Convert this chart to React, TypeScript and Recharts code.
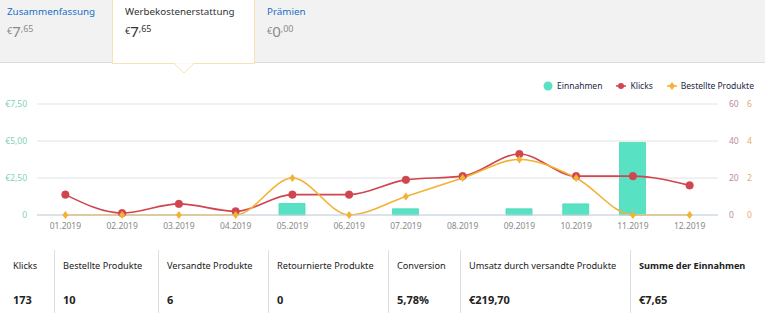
import { Bar, CartesianGrid, ComposedChart, Legend, Line, XAxis, YAxis } from "recharts"

// monthly values
const months = ["01.2019", "02.2019", "03.2019", "04.2019", "05.2019", "06.2019", "07.2019", "08.2019", "09.2019", "10.2019", "11.2019", "12.2019"]
const einnahmen = [0, 0, 0, 0, 0.78, 0, 0.42, 0, 0.42, 0.75, 4.9, 0]
const klicks = [11, 1, 6, 2, 11, 11, 19, 21, 33, 21, 21, 16]
const bestellt = [0, 0, 0, 0, 2, 0, 1, 2, 3, 2, 0, 0]

const euroTicks = [0, 2.5, 5, 7.5]
const klickTicks = [0, 20, 40, 60]
const bestelltTicks = [0, 2, 4, 6]

const tabs = [
  { title: "Zusammenfassung", main: "7", cents: "65" },
  { title: "Werbekostenerstattung", main: "7", cents: "65" },
  { title: "Prämien", main: "0", cents: "00" },
]

const stats = [
  { label: "Klicks", value: "173" },
  { label: "Bestellte Produkte", value: "10" },
  { label: "Versandte Produkte", value: "6" },
  { label: "Retournierte Produkte", value: "0" },
  { label: "Conversion", value: "5,78%" },
  { label: "Umsatz durch versandte Produkte", value: "€219,70" },
  { label: "Summe der Einnahmen", value: "€7,65" },
]

const data = months.map((m, i) => ({
  month: m,
  einnahmen: einnahmen[i],
  klicks: klicks[i],
  bestellt: bestellt[i],
}))

const FONT = "'Noto Sans', 'Open Sans', sans-serif"
const TEAL = "#58e1c3"
const RED = "#d0454e"
const ORANGE = "#f2b233"

const tabLeft = [7, 125, 267]
const colLeft = [0, 54, 158, 268, 388, 460, 630, 765]

function Diamond(props: any) {
  const { cx, cy } = props
  if (cx == null || cy == null) return null
  return <path d={`M${cx},${cy - 4}L${cx + 3},${cy}L${cx},${cy + 4}L${cx - 3},${cy}Z`} fill={ORANGE} />
}

function LegendBox() {
  const item = { display: "flex", alignItems: "center", marginLeft: 14 } as const
  return (
    <div style={{ display: "flex", justifyContent: "flex-end", fontSize: 8.5, color: "#1b2744", fontFamily: FONT }}>
      <div style={item}>
        <svg width={10} height={10} style={{ marginRight: 4 }}>
          <circle cx={5} cy={5} r={4.5} fill={TEAL} />
        </svg>
        Einnahmen
      </div>
      <div style={item}>
        <svg width={10} height={10} style={{ marginRight: 4 }}>
          <line x1={0} y1={5} x2={10} y2={5} stroke={RED} strokeWidth={1.5} />
          <circle cx={5} cy={5} r={3} fill={RED} />
        </svg>
        Klicks
      </div>
      <div style={item}>
        <svg width={10} height={10} style={{ marginRight: 4 }}>
          <line x1={0} y1={5} x2={10} y2={5} stroke={ORANGE} strokeWidth={1.5} />
          <path d="M5,1L8,5L5,9L2,5Z" fill={ORANGE} />
        </svg>
        Bestellte Produkte
      </div>
    </div>
  )
}

function euro(v: number) {
  if (v === 0) return "0"
  return "€" + v.toFixed(2).replace(".", ",")
}

export default function App() {
  return (
    <div style={{ position: "fixed", left: 0, top: 0, width: 765, height: 313, background: "#fff", fontFamily: FONT, overflow: "hidden" }}>
      {/* header strip with tabs */}
      <div style={{ position: "absolute", left: 0, top: 0, width: 765, height: 62, background: "#f2f2f2", borderBottom: "1px solid #dcdcdc" }} />
      <div style={{ position: "absolute", left: 112, top: 0, width: 143, height: 64, background: "#fff", border: "1px solid #fbe0b4", borderTop: "none", boxSizing: "border-box" }} />
      <svg style={{ position: "absolute", left: 174, top: 63 }} width={20} height={12}>
        <path d="M0,0.5L10,10L20,0.5" fill="#fff" stroke="#fbe0b4" strokeWidth={1} />
        <rect x={1} y={-1} width={18} height={1.6} fill="#fff" />
      </svg>
      {tabs.map((t, i) => (
        <div key={t.title} style={{ position: "absolute", left: tabLeft[i], top: 5 }}>
          <div style={{ fontSize: 9.8, color: i === 1 ? "#333" : "#1a6fc4", whiteSpace: "nowrap" }}>{t.title}</div>
          <div style={{ marginTop: 2, color: i === 1 ? "#333" : "#8b8b8b", whiteSpace: "nowrap", lineHeight: "18px" }}>
            <span style={{ fontSize: 9, verticalAlign: 3 }}>€</span>
            <span style={{ fontSize: 15 }}>{t.main}</span>
            <span style={{ fontSize: 9, verticalAlign: 5 }}>,{t.cents}</span>
          </div>
        </div>
      ))}

      {/* chart */}
      <div style={{ position: "absolute", left: 0, top: 70 }}>
        <ComposedChart width={765} height={176} data={data} margin={{ top: 23, right: 0, bottom: 7, left: 0 }} barSize={26}>
          <CartesianGrid yAxisId="e" vertical={false} stroke="#e2e2e2" />
          <XAxis
            dataKey="month"
            tickLine={false}
            axisLine={{ stroke: "#c6d4e3" }}
            tick={{ fontSize: 8.5, fill: "#8a8a8a", fontFamily: FONT }}
            tickSize={0}
            tickMargin={8}
            height={24}
          />
          <YAxis
            yAxisId="e"
            orientation="left"
            width={37}
            domain={[0, 7.5]}
            ticks={euroTicks}
            tickFormatter={euro}
            axisLine={false}
            tickLine={false}
            tickSize={0}
            tickMargin={10}
            tick={{ fontSize: 8.5, fill: "#7fd2b5", fontFamily: FONT }}
          />
          <YAxis
            yAxisId="r1"
            orientation="right"
            width={23}
            domain={[0, 60]}
            ticks={klickTicks}
            axisLine={false}
            tickLine={false}
            tickSize={0}
            tickMargin={11}
            tick={{ fontSize: 8.5, fill: "#bb8c9a", fontFamily: FONT, textAnchor: "start" }}
          />
          <YAxis
            yAxisId="r2"
            orientation="right"
            width={24}
            domain={[0, 6]}
            ticks={bestelltTicks}
            axisLine={false}
            tickLine={false}
            tickSize={0}
            tickMargin={6}
            tick={{ fontSize: 8.5, fill: "#e6ab6c", fontFamily: FONT, textAnchor: "start" }}
          />
          <Legend
            verticalAlign="top"
            align="right"
            content={() => <LegendBox />}
            wrapperStyle={{ top: 10, right: 11, width: 300 }}
          />
          <Bar yAxisId="e" dataKey="einnahmen" name="Einnahmen" fill={TEAL} stroke="#45dbb8" strokeWidth={0.8} isAnimationActive={false} />
          <Line
            yAxisId="r1"
            type="monotone"
            dataKey="klicks"
            name="Klicks"
            stroke={RED}
            strokeWidth={1.6}
            dot={{ r: 3.8, fill: RED, stroke: RED, strokeWidth: 0.5 }}
            activeDot={false}
            isAnimationActive={false}
          />
          <Line
            yAxisId="r2"
            type="monotone"
            dataKey="bestellt"
            name="Bestellte Produkte"
            stroke={ORANGE}
            strokeWidth={1.6}
            dot={<Diamond />}
            activeDot={false}
            isAnimationActive={false}
          />
        </ComposedChart>
      </div>

      {/* totals table */}
      {stats.map((s, i) => (
        <div
          key={s.label}
          style={{
            position: "absolute",
            left: colLeft[i],
            top: 250,
            width: colLeft[i + 1] - colLeft[i],
            height: 63,
            borderLeft: i > 0 ? "1px solid #dedede" : "none",
            boxSizing: "border-box",
            paddingLeft: i === 0 ? 13 : 8,
            color: "#222",
          }}
        >
          <div style={{ fontSize: 9.2, marginTop: 9, whiteSpace: "nowrap", fontWeight: i === 6 ? 700 : 400 }}>{s.label}</div>
          <div style={{ fontSize: 11, fontWeight: 700, marginTop: 20, whiteSpace: "nowrap" }}>{s.value}</div>
        </div>
      ))}
    </div>
  )
}
